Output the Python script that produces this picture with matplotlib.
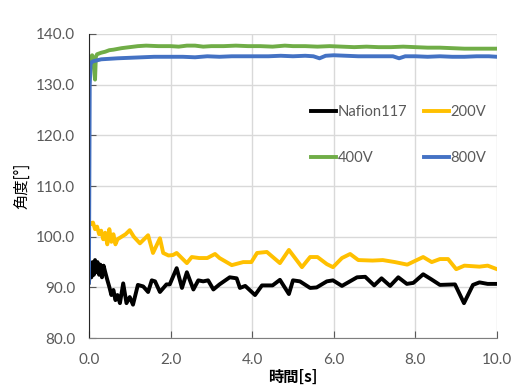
import matplotlib
matplotlib.use("Agg")
import matplotlib.pyplot as plt

# 時間[s] と 角度 のデータ
t_nafion = [0, 0.03, 0.06, 0.09, 0.12, 0.15, 0.18, 0.21, 0.25, 0.28, 0.32, 0.36, 0.4, 0.45,
            0.5, 0.55, 0.6, 0.65, 0.7, 0.76, 0.84, 0.92, 1.0, 1.08, 1.2, 1.33, 1.45, 1.54,
            1.62, 1.74, 1.9, 1.98, 2.15, 2.28, 2.4, 2.56, 2.68, 2.8, 2.92, 3.05, 3.2, 3.45,
            3.62, 3.7, 3.83, 4.07, 4.24, 4.5, 4.68, 4.9, 5.0, 5.17, 5.42, 5.58, 5.83, 5.98,
            6.2, 6.57, 6.77, 6.99, 7.17, 7.38, 7.58, 7.79, 7.95, 8.19, 8.39, 8.6, 8.97,
            9.19, 9.41, 9.57, 9.77, 10.0]
v_nafion = [91.0, 93.5, 92.0, 95.0, 92.5, 95.4, 93.0, 95.0, 92.5, 94.5, 92.0, 94.3, 93.0, 91.5,
            90.1, 88.5, 89.5, 87.5, 88.5, 86.9, 90.8, 86.9, 88.1, 86.6, 90.5, 90.2, 89.1, 91.4,
            91.2, 89.1, 90.6, 90.6, 93.8, 89.9, 93.0, 89.6, 91.4, 91.2, 91.4, 89.6, 90.6, 92.0,
            91.8, 89.9, 90.3, 88.5, 90.4, 90.4, 91.5, 88.7, 91.4, 91.2, 89.9, 90.0, 91.2, 91.4,
            90.3, 92.0, 92.1, 90.4, 91.8, 90.3, 92.0, 90.7, 90.9, 92.6, 91.6, 90.5, 90.6,
            86.9, 90.5, 91.0, 90.7, 90.7]

t_200 = [0, 0.05, 0.1, 0.15, 0.2, 0.25, 0.3, 0.35, 0.4, 0.45, 0.5, 0.55, 0.6, 0.65, 0.7,
         0.8, 0.9, 1.0, 1.1, 1.25, 1.45, 1.57, 1.74, 1.82, 1.95, 2.06, 2.15, 2.4, 2.52, 2.7,
         2.9, 3.09, 3.2, 3.5, 3.78, 3.98, 4.12, 4.36, 4.68, 4.9, 5.22, 5.42, 5.6, 5.83, 5.98,
         6.2, 6.4, 6.6, 6.95, 7.2, 7.5, 7.8, 8.19, 8.4, 8.6, 8.8, 9.0, 9.2, 9.57, 9.77, 10.0]
v_200 = [103.0, 102.5, 102.8, 101.5, 102.0, 100.5, 101.2, 99.5, 100.8, 98.5, 101.5, 99.0,
         100.5, 98.5, 99.5, 100.0, 100.5, 101.3, 100.0, 98.7, 100.3, 96.8, 99.7, 96.8, 96.3,
         96.4, 96.8, 94.8, 96.0, 95.8, 95.8, 96.6, 95.8, 94.4, 95.0, 95.0, 96.8, 97.0, 94.8,
         97.4, 94.0, 96.0, 96.0, 94.6, 94.0, 95.8, 96.6, 95.4, 95.3, 95.4, 95.0, 94.5, 96.0,
         95.0, 95.6, 95.6, 93.6, 94.3, 94.1, 94.3, 93.6]

t_400 = [0, 0.03, 0.08, 0.12, 0.15, 0.17, 0.2, 0.3, 0.4, 0.5, 0.6, 0.8, 1.0, 1.2, 1.4, 1.7,
         2.0, 2.2, 2.4, 2.6, 2.8, 3.0, 3.3, 3.6, 3.9, 4.2, 4.5, 4.8, 5.0, 5.3, 5.6, 5.9, 6.2,
         6.5, 6.8, 7.1, 7.4, 7.7, 8.0, 8.3, 8.6, 8.9, 9.2, 9.5, 9.8, 10.0]
v_400 = [134.0, 135.3, 135.8, 133.5, 131.0, 135.5, 136.0, 136.3, 136.5, 136.8, 136.9, 137.2,
         137.4, 137.6, 137.7, 137.6, 137.6, 137.5, 137.7, 137.7, 137.5, 137.6, 137.6, 137.7,
         137.6, 137.6, 137.5, 137.7, 137.6, 137.6, 137.5, 137.6, 137.5, 137.4, 137.5, 137.4,
         137.4, 137.5, 137.4, 137.3, 137.3, 137.2, 137.1, 137.1, 137.1, 137.1]

t_800 = [0, 0.02, 0.04, 0.06, 0.1, 0.2, 0.3, 0.5, 0.7, 1.0, 1.3, 1.6, 2.0, 2.3, 2.6, 2.9, 3.2,
         3.5, 3.8, 4.1, 4.4, 4.7, 5.0, 5.3, 5.5, 5.65, 5.8, 6.0, 6.3, 6.6, 6.9, 7.2, 7.45, 7.6,
         7.75, 8.0, 8.3, 8.6, 8.9, 9.2, 9.5, 9.8, 10.0]
v_800 = [91.0, 130.0, 134.0, 134.4, 134.6, 134.8, 135.0, 135.1, 135.2, 135.3, 135.4, 135.5,
         135.5, 135.5, 135.4, 135.6, 135.5, 135.6, 135.6, 135.6, 135.6, 135.7, 135.6, 135.7,
         135.6, 135.2, 135.7, 135.8, 135.7, 135.6, 135.6, 135.6, 135.6, 135.2, 135.6, 135.6,
         135.5, 135.6, 135.5, 135.5, 135.6, 135.6, 135.5]

x_ticks = [0, 2, 4, 6, 8, 10]
y_ticks = [80, 90, 100, 110, 120, 130, 140]

cjk = ['Noto Sans CJK JP', 'DejaVu Sans']
plt.rcParams['font.family'] = ['Lato', 'DejaVu Sans']

fig = plt.figure(figsize=(5.14, 3.86), dpi=100)
ax = fig.add_axes([0.173, 0.124, 0.794, 0.788])

lw = 2.8
l1, = ax.plot(t_nafion, v_nafion, color='black', lw=lw, label='Nafion117')
l2, = ax.plot(t_200, v_200, color='#FFC000', lw=lw, label='200V')
l3, = ax.plot(t_400, v_400, color='#70AD47', lw=lw, label='400V')
l4, = ax.plot(t_800, v_800, color='#4472C4', lw=lw, label='800V')

ax.set_xlim(0, 10)
ax.set_ylim(80, 140)
ax.set_xticks(x_ticks)
ax.set_yticks(y_ticks)
ax.set_xticklabels([f'{v:.1f}' for v in x_ticks])
ax.set_yticklabels([f'{v:.1f}' for v in y_ticks])
ax.tick_params(direction='in', length=5, labelsize=11, labelcolor='#595959',
               color='#595959')
ax.tick_params(axis='x', pad=11)
ax.tick_params(axis='y', pad=10)

ax.grid(True, color='#d9d9d9', lw=1)
ax.set_axisbelow(True)
for s in ['top', 'right']:
    ax.spines[s].set_visible(False)
ax.spines['left'].set_color('#262626')
ax.spines['bottom'].set_color('#7f7f7f')

ax.set_xlabel('時間[s]', family=cjk, fontsize=11, fontweight='bold', labelpad=1)
ax.set_ylabel('角度[°]', family=cjk, fontsize=11, labelpad=4)

# 行ごとに並べるため列順に渡す
leg = ax.legend([l1, l3, l2, l4], ['Nafion117', '400V', '200V', '800V'], ncol=2,
                loc='upper left', bbox_to_anchor=(0.545, 0.765), frameon=False,
                fontsize=10.6, handlelength=1.7, handletextpad=0.1, columnspacing=1.1,
                labelspacing=2.15, borderaxespad=0, borderpad=0)
for txt in leg.get_texts():
    txt.set_color('#595959')

fig.savefig('out.png', dpi=100)
